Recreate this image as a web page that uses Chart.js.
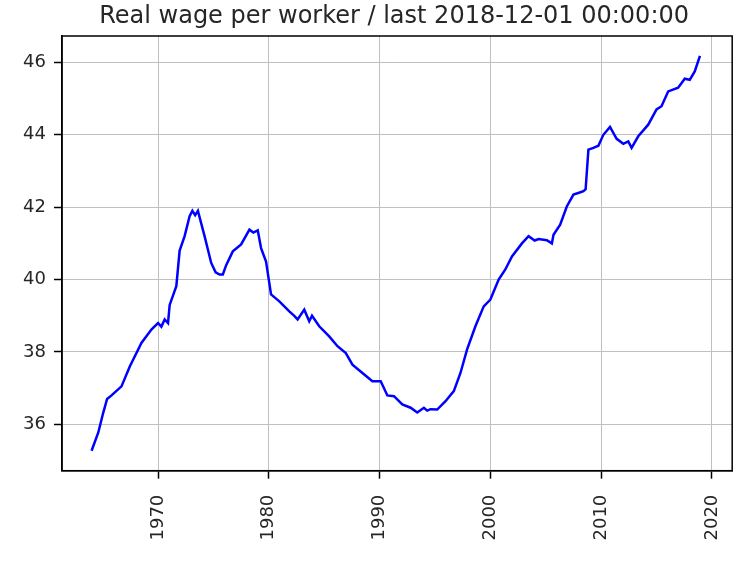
<!DOCTYPE html>
<html>
<head>
<meta charset="utf-8">
<script src="https://cdn.jsdelivr.net/npm/chart.js@4/dist/chart.umd.min.js"></script>
<style>
  html, body { margin: 0; padding: 0; background: #fff; }
  canvas { display: block; }
</style>
</head>
<body>
<canvas id="wage-chart" width="750" height="561"></canvas>
<script>
const title = 'Real wage per worker / last 2018-12-01 00:00:00';

// decimal year of each reading
const years = [
  1964.0, 1964.6, 1965.05, 1965.4, 1965.8, 1966.7, 1967.45, 1968.5, 1969.4, 1970.0,
  1970.3, 1970.6, 1970.9, 1971.05, 1971.65, 1971.95, 1972.4, 1972.85, 1973.1, 1973.35,
  1973.6, 1974.2, 1974.8, 1975.2, 1975.55, 1975.85, 1976.15, 1976.75, 1977.5, 1978.25,
  1978.6, 1979.0, 1979.3, 1979.75, 1980.2, 1980.95, 1981.85, 1982.3, 1982.6, 1983.2,
  1983.65, 1983.9, 1984.55, 1985.45, 1986.2, 1986.95, 1987.55, 1988.45, 1989.35, 1990.1,
  1990.4, 1990.7, 1991.3, 1992.05, 1992.8, 1993.4, 1994.0, 1994.3, 1994.6, 1995.2,
  1995.95, 1996.7, 1997.3, 1997.9, 1998.65, 1999.4, 2000.0, 2000.75, 2001.35, 2001.95,
  2002.85, 2003.45, 2004.0, 2004.35, 2005.1, 2005.55, 2005.7, 2006.3, 2006.9, 2007.5,
  2008.0, 2008.4, 2008.6, 2008.85, 2009.3, 2009.75, 2010.2, 2010.8, 2011.4, 2012.0,
  2012.45, 2012.75, 2013.35, 2014.25, 2015.0, 2015.45, 2016.05, 2016.95, 2017.55, 2018.0,
  2018.45, 2018.92
];

const wage = [
  35.27, 35.77, 36.32, 36.7, 36.8, 37.05, 37.6, 38.25, 38.62, 38.8,
  38.7, 38.9, 38.8, 39.3, 39.82, 40.8, 41.2, 41.75, 41.9, 41.78,
  41.9, 41.2, 40.46, 40.2, 40.14, 40.14, 40.4, 40.78, 40.97, 41.38,
  41.3, 41.36, 40.87, 40.5, 39.59, 39.4, 39.12, 39.0, 38.9, 39.17,
  38.85, 39.0, 38.71, 38.43, 38.16, 37.97, 37.65, 37.42, 37.19, 37.19,
  37.0, 36.8, 36.78, 36.55, 36.46, 36.33, 36.46, 36.38, 36.42, 36.41,
  36.64, 36.92, 37.42, 38.07, 38.71, 39.26, 39.45, 40.0, 40.28, 40.64,
  41.0, 41.2, 41.08, 41.12, 41.09, 41.0, 41.24, 41.52, 42.02, 42.35,
  42.4, 42.44, 42.5, 43.59, 43.64, 43.7, 44.0, 44.22, 43.89, 43.75,
  43.82, 43.64, 43.96, 44.28, 44.7, 44.79, 45.2, 45.3, 45.55, 45.52,
  45.75, 46.18
];

const xTicks = [1970, 1980, 1990, 2000, 2010, 2020];
const yTicks = [36, 38, 40, 42, 44, 46];

const points = years.map((x, i) => ({ x: x, y: wage[i] }));

// matplotlib style: box round the plot + title above it
const framePlugin = {
  id: 'frame',
  afterDraw(chart) {
    const { ctx, chartArea: a } = chart;
    ctx.save();
    ctx.strokeStyle = '#000';
    ctx.lineWidth = 1.5;
    ctx.strokeRect(a.left, a.top, a.right - a.left, a.bottom - a.top);
    ctx.fillStyle = '#262626';
    ctx.font = '24px "DejaVu Sans"';
    ctx.textAlign = 'center';
    ctx.textBaseline = 'alphabetic';
    ctx.fillText(title, (a.left + a.right) / 2 - 3, 23);
    ctx.restore();
  }
};

const tickFont = { family: 'DejaVu Sans', size: 18 };

new Chart(document.getElementById('wage-chart'), {
  type: 'line',
  data: {
    datasets: [{
      data: points,
      borderColor: '#0000ff',
      borderWidth: 2.5,
      pointRadius: 0,
      tension: 0,
      fill: false
    }]
  },
  options: {
    responsive: false,
    animation: false,
    devicePixelRatio: 1,
    layout: { padding: { left: 0, top: 36, right: 16, bottom: 0 } },
    plugins: { legend: { display: false }, title: { display: false }, tooltip: { enabled: false } },
    scales: {
      x: {
        type: 'linear',
        min: 1961.33,
        max: 2021.83,
        afterBuildTicks: s => { s.ticks = xTicks.map(v => ({ value: v })); },
        afterFit: s => { s.height = 90.3; },
        grid: { color: '#c0c0c0', lineWidth: 1, tickColor: '#000', tickLength: 8, tickWidth: 1.5 },
        border: { display: true, color: '#000', width: 1.5 },
        ticks: {
          color: '#262626',
          font: tickFont,
          minRotation: 90,
          maxRotation: 90,
          padding: 16,
          autoSkip: false,
          callback: v => String(v)
        }
      },
      y: {
        min: 34.72,
        max: 46.73,
        afterBuildTicks: s => { s.ticks = yTicks.map(v => ({ value: v })); },
        afterFit: s => { s.width = 62; },
        grid: { color: '#c0c0c0', lineWidth: 1, tickColor: '#000', tickLength: 8, tickWidth: 1.5 },
        border: { display: true, color: '#000', width: 1.5 },
        ticks: {
          color: '#262626',
          font: tickFont,
          padding: 8,
          callback: v => String(v)
        }
      }
    }
  },
  plugins: [framePlugin]
});
</script>
</body>
</html>
